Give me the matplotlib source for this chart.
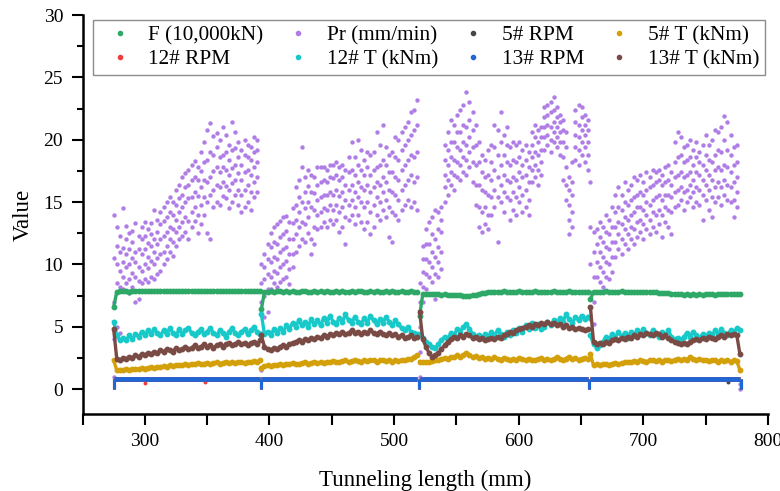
import numpy as np
import matplotlib
matplotlib.use("Agg")
import matplotlib.pyplot as plt
from matplotlib.lines import Line2D
from matplotlib.ticker import MultipleLocator

plt.rcParams['font.family'] = ['Liberation Serif', 'DejaVu Serif']

# sampling of the four excavation segments (mm)
STEP = 2.5
seg_start = [275.0, 393.5, 520.5, 657.5]
seg_end = [392.5, 518.5, 655.5, 777.5]
edge_x = [275.0, 393.0, 520.0, 656.5, 778.0]

# F (10,000kN)
f_seg = [
    [6.6, 7.8, 7.85, 7.9, 7.85, 7.82, 7.88, 7.85, 7.9, 7.86, 7.84, 7.88, 7.85, 7.83, 7.87, 7.9,
     7.86, 7.84, 7.88, 7.85, 7.86, 7.83, 7.87, 7.85, 7.89, 7.86, 7.84, 7.86, 7.88, 7.85, 7.83, 7.86,
     7.88, 7.85, 7.84, 7.87, 7.85, 7.86, 7.84, 7.88, 7.85, 7.83, 7.86, 7.85, 7.87, 7.84, 7.86, 7.85],
    [6.4, 7.8, 7.82, 7.84, 7.8, 7.83, 7.85, 7.81, 7.83, 7.8, 7.84, 7.82, 7.8, 7.83, 7.85, 7.82,
     7.8, 7.84, 7.81, 7.83, 7.82, 7.85, 7.8, 7.82, 7.84, 7.81, 7.83, 7.8, 7.82, 7.84, 7.81, 7.83,
     7.85, 7.82, 7.8, 7.83, 7.81, 7.84, 7.82, 7.8, 7.83, 7.81, 7.84, 7.82, 7.8, 7.83, 7.82, 7.81,
     7.84, 7.82, 7.8],
    [5.9, 7.62, 7.6, 7.62, 7.6, 7.61, 7.6, 7.58, 7.6, 7.57, 7.56, 7.55, 7.53, 7.52, 7.5, 7.48,
     7.5, 7.52, 7.56, 7.62, 7.68, 7.74, 7.78, 7.8, 7.82, 7.8, 7.81, 7.83, 7.8, 7.82, 7.8, 7.81,
     7.83, 7.8, 7.82, 7.81, 7.8, 7.83, 7.81, 7.8, 7.82, 7.8, 7.81, 7.83, 7.8, 7.82, 7.8, 7.81,
     7.83, 7.8, 7.82, 7.8, 7.81, 7.8, 7.82],
    [7.2, 7.8, 7.82, 7.8, 7.81, 7.83, 7.8, 7.82, 7.8, 7.81, 7.83, 7.8, 7.82, 7.8, 7.79, 7.81,
     7.8, 7.78, 7.8, 7.77, 7.76, 7.75, 7.74, 7.72, 7.7, 7.68, 7.66, 7.64, 7.62, 7.6, 7.58, 7.6,
     7.58, 7.6, 7.57, 7.6, 7.58, 7.6, 7.59, 7.6, 7.58, 7.6, 7.62, 7.6, 7.61, 7.63, 7.62, 7.64, 7.62],
]

# Pr (mm/min): readings per sampling position
pr_seg = [
    [[1.0, 4.0, 7.0, 10.5, 14.0], [5.0, 8.5, 10.0, 11.5, 13.0], [4.5, 8.2, 9.5, 11.0, 12.3],
     [8.0, 9.0, 10.2, 11.3, 14.5], [8.5, 9.8, 10.8, 12.0, 13.1], [7.7, 8.8, 10.0, 11.2, 12.5],
     [8.2, 9.3, 10.5, 11.8, 12.7], [7.0, 9.0, 10.2, 11.0, 13.3], [7.2, 8.7, 9.8, 11.2, 12.3],
     [8.5, 9.5, 10.8, 12.0, 13.0], [8.8, 10.0, 11.2, 12.3, 13.4], [8.6, 9.7, 10.6, 11.7, 12.8],
     [9.0, 10.3, 11.5, 12.4, 13.3], [8.8, 10.0, 11.0, 12.0, 14.4], [9.2, 10.5, 11.6, 12.6, 13.6],
     [9.5, 10.8, 12.0, 13.2, 14.2], [10.0, 11.0, 12.3, 13.5, 14.6], [10.4, 11.5, 12.6, 13.8, 15.0],
     [11.0, 12.0, 13.0, 14.2, 15.4], [10.7, 11.8, 12.8, 14.0, 15.0], [11.5, 12.6, 13.6, 14.8, 16.0],
     [12.0, 13.0, 14.2, 15.3, 16.4], [12.3, 13.4, 14.6, 15.6, 17.0], [12.6, 13.8, 15.0, 16.2, 17.3],
     [12.0, 13.5, 15.3, 16.4, 17.6], [13.0, 14.2, 15.4, 16.8, 18.0], [13.5, 14.6, 15.8, 17.0, 18.3],
     [12.5, 14.0, 15.5, 16.8, 17.8], [13.2, 14.8, 16.2, 17.5, 19.0], [14.0, 15.4, 16.8, 18.2, 19.8],
     [12.5, 15.0, 16.6, 18.4, 20.8], [12.0, 15.6, 17.0, 19.0, 21.3], [14.6, 16.0, 17.5, 18.8, 20.3],
     [15.0, 16.4, 17.8, 19.4, 20.5], [14.8, 16.2, 17.4, 18.6, 20.0], [15.5, 16.6, 17.8, 18.8, 21.0],
     [15.3, 16.3, 17.6, 19.0, 20.4], [14.5, 16.0, 17.2, 18.4, 19.6], [15.0, 16.5, 17.7, 19.2, 21.4],
     [15.6, 16.8, 18.0, 19.3, 20.6], [14.8, 16.0, 17.3, 18.6, 19.8], [14.2, 15.6, 16.8, 18.0, 19.2],
     [14.6, 16.0, 17.4, 18.8, 20.0], [15.0, 16.4, 17.6, 18.6, 19.6], [14.4, 15.8, 17.2, 18.4, 19.4],
     [15.4, 16.6, 17.8, 19.0, 20.2], [15.8, 17.0, 18.2, 19.2, 20.0]],
    [[1.5, 4.5, 7.0, 8.5, 10.0], [5.8, 7.5, 8.8, 9.8, 10.8], [6.2, 8.0, 9.2, 10.4, 11.6],
     [8.0, 9.0, 10.2, 11.4, 12.5], [8.5, 9.5, 10.6, 11.8, 13.0], [8.2, 9.3, 10.4, 11.6, 13.2],
     [8.6, 9.8, 11.0, 12.2, 13.5], [8.8, 10.0, 11.2, 12.4, 13.8], [9.0, 10.3, 11.4, 12.7, 13.9],
     [8.4, 9.6, 10.8, 12.0, 13.4], [9.8, 10.8, 12.0, 13.3, 14.5], [11.0, 12.4, 13.6, 14.8, 16.2],
     [11.5, 13.0, 14.2, 15.4, 16.8], [12.0, 13.4, 15.0, 17.8, 19.4], [11.8, 13.2, 14.5, 15.8, 17.0],
     [12.5, 13.8, 15.0, 16.3, 17.6], [10.8, 12.0, 14.6, 15.8, 17.2], [11.6, 13.0, 14.4, 15.7, 17.0],
     [12.8, 14.0, 15.2, 16.4, 17.8], [13.0, 14.2, 15.4, 16.6, 17.8], [13.4, 14.5, 15.6, 16.8, 17.8],
     [13.0, 14.4, 15.6, 16.6, 17.6], [13.6, 14.8, 15.8, 17.0, 18.0], [13.2, 14.4, 15.6, 16.9, 18.0],
     [13.6, 14.8, 16.0, 17.2, 18.2], [12.6, 14.2, 15.5, 16.8, 17.8], [13.0, 14.6, 15.8, 17.0, 18.0],
     [11.6, 13.8, 15.2, 16.4, 17.6], [13.6, 14.8, 16.0, 17.4, 18.6], [14.0, 15.2, 16.4, 17.6, 19.8],
     [13.2, 14.6, 15.8, 17.2, 18.6], [14.0, 15.4, 16.6, 18.0, 20.0], [13.4, 15.0, 16.2, 17.6, 19.2],
     [12.8, 14.6, 16.0, 17.2, 18.4], [13.4, 15.0, 16.4, 17.8, 19.0], [12.4, 14.2, 15.8, 17.2, 18.8],
     [13.0, 14.8, 16.2, 17.6, 19.0], [14.0, 15.4, 16.6, 17.8, 20.6], [13.6, 15.0, 16.4, 18.0, 19.6],
     [14.4, 15.8, 17.0, 18.4, 21.2], [13.8, 15.2, 16.6, 18.0, 19.4], [12.2, 14.6, 16.0, 17.4, 18.8],
     [11.8, 14.2, 15.8, 17.4, 19.0], [14.0, 15.6, 17.0, 18.6, 20.2], [13.6, 15.2, 16.8, 18.4, 20.0],
     [14.4, 16.0, 17.6, 19.2, 20.6], [14.8, 16.4, 18.0, 19.6, 21.0], [15.2, 16.8, 18.4, 20.0, 21.4],
     [14.6, 17.2, 18.8, 20.4, 22.2], [15.0, 16.6, 18.6, 20.8, 22.4], [14.4, 17.0, 19.0, 21.2, 23.2]],
    [[1.0, 3.0, 5.0, 7.0, 8.5], [7.0, 8.2, 9.4, 10.4, 11.5], [8.0, 9.2, 10.4, 11.6, 12.8],
     [7.6, 9.0, 10.2, 11.6, 13.4], [8.6, 9.8, 11.0, 12.4, 13.8], [7.2, 9.2, 10.6, 12.0, 14.4],
     [9.0, 10.2, 11.4, 12.8, 14.2], [9.6, 11.0, 12.6, 13.6, 14.6], [15.0, 16.2, 17.2, 18.4, 19.6],
     [15.6, 16.8, 18.0, 19.2, 20.6], [16.4, 17.4, 18.6, 19.8, 21.6], [16.0, 17.2, 18.4, 19.8, 21.2],
     [17.0, 18.2, 19.4, 20.6, 22.0], [16.8, 18.0, 19.2, 20.6, 22.4], [17.4, 18.6, 19.8, 21.2, 22.8],
     [17.2, 18.4, 19.6, 21.0, 23.8], [17.8, 19.0, 20.2, 21.6, 23.0], [16.6, 18.2, 19.4, 20.8, 22.2],
     [14.8, 16.4, 18.0, 19.6, 21.2], [13.0, 14.6, 16.4, 18.2, 19.8], [12.6, 14.2, 16.0, 17.4, 18.8],
     [13.2, 14.6, 15.8, 17.0, 18.4], [12.8, 14.0, 15.6, 17.2, 19.2], [14.0, 15.4, 16.8, 18.2, 19.6],
     [14.6, 16.0, 17.6, 19.4, 21.2], [11.8, 15.4, 17.0, 18.8, 20.8], [15.0, 16.4, 18.0, 19.8, 22.2],
     [14.2, 15.8, 17.2, 18.8, 20.4], [15.4, 16.8, 18.2, 19.6, 21.0], [13.6, 15.2, 16.6, 18.0, 19.4],
     [14.4, 15.8, 17.0, 18.4, 19.8], [14.0, 15.4, 16.8, 18.2, 19.6], [15.0, 16.2, 17.4, 18.6, 19.8],
     [14.2, 15.6, 17.0, 18.0, 19.2], [14.6, 16.0, 17.2, 18.4, 19.6], [14.0, 15.2, 16.6, 17.8, 19.0],
     [16.6, 17.6, 18.6, 19.6, 20.6], [17.0, 18.0, 19.0, 20.2, 21.2], [16.4, 17.6, 18.8, 19.8, 20.8],
     [17.2, 18.2, 19.2, 20.2, 21.0], [19.2, 20.2, 21.0, 21.8, 22.6], [19.6, 20.4, 21.2, 22.0, 22.8],
     [19.0, 20.0, 21.0, 22.2, 23.0], [19.8, 20.6, 21.4, 22.4, 23.4], [19.4, 20.2, 21.0, 21.8, 22.6],
     [18.8, 19.8, 20.6, 21.4, 22.0], [16.8, 18.6, 19.8, 20.8, 21.6], [15.2, 16.4, 17.8, 19.4, 20.6],
     [12.4, 13.6, 14.8, 16.0, 17.0], [13.0, 14.2, 15.6, 16.6, 18.2], [18.4, 19.4, 20.4, 21.4, 22.4],
     [18.0, 19.2, 20.2, 21.2, 22.8], [18.8, 19.8, 20.8, 21.8, 22.6], [18.2, 19.4, 20.4, 21.2, 22.0],
     [17.6, 18.8, 19.8, 20.8, 21.6]],
    [[5.6, 7.8, 10.0, 13.0, 16.6], [5.2, 7.0, 9.0, 11.0, 12.6], [7.8, 9.0, 10.2, 11.6, 12.8],
     [8.6, 9.8, 11.0, 12.2, 13.4], [8.2, 9.4, 10.6, 11.8, 13.0], [9.0, 10.2, 11.4, 12.6, 14.0],
     [8.8, 10.0, 11.2, 12.4, 13.6], [9.4, 10.6, 11.8, 13.0, 14.6], [10.6, 11.8, 13.0, 14.2, 15.6],
     [11.2, 12.4, 13.4, 14.6, 16.2], [10.8, 12.0, 13.2, 14.4, 15.6], [11.6, 12.8, 13.8, 15.0, 16.6],
     [11.2, 12.4, 13.6, 14.8, 16.0], [12.0, 13.0, 14.0, 15.2, 16.4], [11.6, 12.8, 14.2, 15.4, 17.0],
     [12.2, 13.4, 14.6, 15.6, 16.8], [12.6, 13.6, 14.6, 15.8, 17.2], [12.0, 13.2, 14.4, 15.6, 16.6],
     [12.8, 14.0, 15.0, 16.0, 17.4], [12.4, 13.6, 14.8, 16.2, 17.0], [13.0, 14.2, 15.2, 16.4, 17.6],
     [12.6, 14.0, 15.4, 16.6, 17.4], [13.2, 14.4, 15.6, 16.8, 17.6], [12.2, 14.0, 15.2, 16.4, 17.2],
     [13.4, 14.6, 15.6, 16.6, 17.8], [13.0, 14.4, 15.6, 16.8, 18.0], [12.4, 14.2, 15.4, 16.4, 17.4],
     [14.6, 15.8, 17.0, 18.2, 19.8], [14.8, 16.0, 17.2, 18.6, 20.6], [15.2, 16.2, 17.4, 18.8, 20.2],
     [14.4, 15.8, 17.0, 18.2, 19.4], [15.0, 16.0, 17.2, 18.4, 19.6], [15.4, 16.4, 17.4, 18.6, 20.0],
     [14.6, 15.8, 16.8, 18.0, 19.2], [15.0, 16.2, 17.4, 18.6, 19.8], [14.8, 16.0, 17.2, 18.2, 19.0],
     [13.6, 15.6, 16.8, 18.0, 19.6], [15.2, 16.4, 17.6, 18.8, 20.4], [14.4, 16.0, 17.2, 18.4, 19.6],
     [13.8, 15.4, 16.8, 18.2, 20.0], [15.0, 16.2, 17.6, 18.8, 20.8], [15.4, 16.6, 17.8, 19.2, 20.6],
     [14.8, 16.2, 17.6, 19.0, 21.0], [15.6, 16.8, 18.0, 20.0, 21.9], [15.2, 16.4, 17.8, 19.2, 21.4],
     [15.0, 16.2, 17.4, 18.8, 20.4], [13.8, 15.2, 16.6, 18.0, 19.4], [14.6, 15.8, 17.0, 18.2, 19.6],
     [0.0, 0.4]],
]

# 5# T (kNm)
t5_seg = [
    [2.3, 1.5, 1.55, 1.5, 1.6, 1.55, 1.6, 1.65, 1.6, 1.7, 1.65, 1.7, 1.75, 1.7, 1.8, 1.75,
     1.85, 1.8, 1.9, 1.85, 1.9, 1.95, 1.9, 2.0, 1.95, 2.05, 2.0, 2.1, 2.0, 2.05, 2.1, 2.0,
     2.1, 2.15, 2.05, 2.1, 2.2, 2.1, 2.15, 2.1, 2.2, 2.15, 2.1, 2.2, 2.15, 2.25, 2.2, 2.3],
    [1.7, 1.85, 1.9, 1.85, 1.95, 1.9, 2.0, 1.95, 2.05, 2.0, 2.1, 2.05, 2.0, 2.1, 2.15, 2.05,
     2.1, 2.2, 2.1, 2.15, 2.1, 2.2, 2.15, 2.25, 2.2, 2.15, 2.25, 2.3, 2.2, 2.25, 2.35, 2.25,
     2.2, 2.3, 2.25, 2.35, 2.3, 2.2, 2.3, 2.35, 2.25, 2.3, 2.2, 2.3, 2.25, 2.35, 2.3, 2.4,
     2.45, 2.55, 2.7],
    [2.2, 2.2, 2.15, 2.2, 2.25, 2.3, 2.35, 2.4, 2.5, 2.45, 2.6, 2.55, 2.7, 2.6, 2.75, 2.9,
     2.7, 2.6, 2.65, 2.5, 2.55, 2.45, 2.5, 2.4, 2.55, 2.45, 2.35, 2.5, 2.4, 2.3, 2.45, 2.35,
     2.5, 2.4, 2.3, 2.45, 2.35, 2.3, 2.4, 2.5, 2.35, 2.45, 2.3, 2.4, 2.55, 2.4, 2.3, 2.45,
     2.6, 2.4, 2.5, 2.35, 2.45, 2.5, 2.4],
    [2.8, 1.9, 2.0, 1.95, 2.0, 2.05, 1.95, 2.05, 2.1, 2.0, 2.1, 2.15, 2.2, 2.15, 2.25, 2.2,
     2.3, 2.25, 2.2, 2.3, 2.35, 2.25, 2.3, 2.2, 2.35, 2.3, 2.25, 2.35, 2.45, 2.3, 2.4, 2.35,
     2.6, 2.45, 2.35, 2.4, 2.3, 2.35, 2.25, 2.35, 2.3, 2.2, 2.3, 2.25, 2.35, 2.2, 2.3, 2.25, 1.5],
]

# 12# T (kNm)
t12_seg = [
    [5.4, 4.3, 3.9, 4.1, 3.9, 4.3, 4.0, 4.4, 4.2, 4.6, 4.3, 4.7, 4.4, 4.8, 4.5, 4.3,
     4.7, 4.4, 4.9, 4.5, 4.3, 4.8, 4.4, 4.7, 4.9, 4.5, 4.3, 4.6, 4.8, 4.4, 4.6, 4.9,
     4.5, 4.3, 4.7, 4.5, 4.2, 4.6, 4.9, 4.5, 4.3, 4.6, 4.8, 4.4, 4.7, 5.0, 4.6, 4.4],
    [6.0, 4.4, 4.6, 4.3, 4.8, 4.5, 4.9, 4.6, 5.1, 4.8, 5.3, 5.0, 5.5, 5.1, 5.4, 5.0,
     5.6, 5.2, 5.5, 5.1, 5.7, 5.3, 5.9, 5.4, 5.2, 5.7, 5.4, 6.0, 5.5, 5.3, 5.8, 5.4,
     5.2, 5.7, 5.3, 5.9, 5.5, 5.2, 5.6, 5.3, 5.8, 5.4, 5.1, 5.5, 5.2, 4.9, 4.7, 5.0,
     4.6, 4.5, 4.4],
    [4.4, 4.1, 3.8, 3.6, 3.4, 3.3, 3.6, 3.9, 4.2, 4.0, 4.5, 4.3, 4.8, 4.6, 5.0, 5.2,
     4.8, 4.4, 4.2, 4.3, 4.1, 4.4, 4.2, 4.6, 4.3, 4.7, 4.4, 4.2, 4.6, 4.3, 4.7, 4.5,
     4.9, 4.6, 5.1, 4.8, 5.3, 4.9, 5.2, 4.8, 5.0, 5.4, 5.1, 5.5, 5.2, 5.7, 5.4, 6.0,
     5.6, 5.3, 5.8, 5.5, 5.9, 5.6, 5.8],
    [4.3, 3.6, 3.3, 3.5, 3.8, 4.2, 4.0, 4.4, 4.1, 4.6, 4.2, 4.5, 4.1, 4.6, 4.3, 4.7,
     4.4, 4.8, 4.5, 4.3, 4.7, 4.4, 4.2, 4.6, 4.3, 4.7, 4.2, 4.0, 4.1, 3.9, 4.2, 4.5,
     4.2, 4.6, 4.3, 4.1, 4.4, 4.2, 4.5, 4.3, 4.7, 4.4, 4.8, 4.5, 4.3, 4.7, 4.5, 4.9, 4.7],
]

# 13# T (kNm)
t13_seg = [
    [4.8, 2.4, 2.3, 2.5, 2.4, 2.6, 2.5, 2.7, 2.6, 2.8, 2.7, 2.9, 2.8, 3.0, 2.9, 3.1,
     3.0, 3.2, 3.1, 3.0, 3.3, 3.1, 3.2, 3.4, 3.2, 3.3, 3.5, 3.3, 3.4, 3.6, 3.4, 3.5,
     3.3, 3.5, 3.6, 3.4, 3.6, 3.7, 3.5, 3.6, 3.8, 3.6, 3.7, 3.5, 3.7, 3.8, 3.6, 3.9],
    [4.3, 3.4, 3.2, 3.1, 3.3, 3.2, 3.4, 3.5, 3.4, 3.6, 3.7, 3.8, 3.9, 3.8, 4.0, 3.9,
     4.1, 4.0, 4.2, 4.1, 4.3, 4.2, 4.4, 4.3, 4.5, 4.4, 4.6, 4.4, 4.5, 4.7, 4.5, 4.6,
     4.4, 4.6, 4.5, 4.7, 4.5, 4.4, 4.6, 4.4, 4.3, 4.5, 4.3, 4.4, 4.2, 4.3, 4.1, 4.2,
     4.3, 4.1, 4.2],
    [6.2, 4.0, 3.4, 2.9, 2.6, 2.7, 2.9, 3.2, 3.5, 3.8, 4.0, 4.2, 4.1, 4.3, 4.2, 4.4,
     4.3, 4.1, 4.2, 4.0, 4.1, 3.9, 4.0, 4.1, 4.0, 4.2, 4.1, 4.3, 4.4, 4.6, 4.5, 4.7,
     4.8, 4.9, 5.0, 5.1, 5.0, 5.2, 5.1, 5.3, 5.2, 5.4, 5.2, 5.3, 5.1, 5.2, 5.0, 5.1,
     4.9, 5.0, 4.8, 4.9, 4.8, 4.7, 4.8],
    [6.6, 3.8, 3.6, 3.7, 3.6, 3.8, 3.7, 3.9, 4.0, 3.9, 4.1, 4.0, 4.2, 4.1, 4.3, 4.2,
     4.4, 4.3, 4.5, 4.4, 4.3, 4.5, 4.4, 4.2, 4.3, 4.1, 3.9, 3.8, 3.7, 3.6, 3.7, 3.6,
     3.8, 3.9, 4.0, 3.9, 4.1, 4.0, 4.2, 4.1, 4.0, 4.2, 4.3, 4.2, 4.4, 4.3, 4.4, 4.3, 2.8],
]

# cutterhead speeds, one level per segment
rpm5 = [0.80, 0.80, 0.80, 0.80]
rpm12 = [0.78, 0.78, 0.78, 0.78]
rpm13 = [0.84, 0.84, 0.84, 0.84]
rpm12_low_x = [300.0, 348.0]
rpm12_low = [0.5, 0.55]
rpm5_low_x = [768.0]
rpm5_low = [0.6]

colors = {
    'F (10,000kN)': '#2ea866',
    'Pr (mm/min)': '#b07de6',
    '5# RPM': '#474747',
    '5# T (kNm)': '#d4a00a',
    '12# RPM': '#f03c3c',
    '12# T (kNm)': '#17c9c9',
    '13# RPM': '#1f66d6',
    '13# T (kNm)': '#7a4a45',
}


def seg_x(start, n):
    return start + STEP * np.arange(n)


def plot_band(ax, segs, color):
    for start, vals in zip(seg_start, segs):
        ax.plot(seg_x(start, len(vals)), vals, '-', marker='o', ms=3.2, lw=2.4,
                color=color, solid_joinstyle='round')


def plot_rpm(ax, levels, color):
    ax.hlines(levels, seg_start, seg_end, colors=color, lw=3.4)
    ax.vlines(edge_x, 0, levels + levels[-1:], colors=color, lw=2.2)


fig = plt.figure(figsize=(7.8, 4.91), dpi=100)
ax = fig.add_axes([0.1058, 0.1568, 0.8788, 0.8126])

plot_band(ax, f_seg, colors['F (10,000kN)'])

pr_x, pr_y = [], []
for start, cols in zip(seg_start, pr_seg):
    for xi, col in zip(seg_x(start, len(cols)), cols):
        pr_x += [xi] * len(col)
        pr_y += col
ax.scatter(pr_x, pr_y, s=10, color=colors['Pr (mm/min)'], linewidths=0)

plot_rpm(ax, rpm5, colors['5# RPM'])
ax.scatter(rpm5_low_x, rpm5_low, s=8, color=colors['5# RPM'], linewidths=0)
plot_band(ax, t5_seg, colors['5# T (kNm)'])
plot_rpm(ax, rpm12, colors['12# RPM'])
ax.scatter(rpm12_low_x, rpm12_low, s=8, color=colors['12# RPM'], linewidths=0)
plot_band(ax, t12_seg, colors['12# T (kNm)'])
plot_rpm(ax, rpm13, colors['13# RPM'])
plot_band(ax, t13_seg, colors['13# T (kNm)'])

ax.set_xlim(250, 800)
ax.set_ylim(-2, 30)
ax.xaxis.set_major_locator(MultipleLocator(100))
ax.xaxis.set_minor_locator(MultipleLocator(50))
ax.yaxis.set_major_locator(MultipleLocator(5))
ax.yaxis.set_minor_locator(MultipleLocator(2.5))
ax.tick_params(which='major', direction='out', length=8, width=1.5, labelsize=14, pad=6)
ax.tick_params(axis='y', which='minor', direction='out', length=4, width=1.5)
ax.tick_params(axis='x', which='minor', direction='out', length=8, width=1.5)
for side in ['top', 'right']:
    ax.spines[side].set_visible(False)
for side in ['left', 'bottom']:
    ax.spines[side].set_linewidth(1.8)

ax.set_xlabel('Tunneling length (mm)', fontsize=16.5, labelpad=14)
ax.set_ylabel('Value', fontsize=16.5, labelpad=7)

# legend reads row by row, matplotlib fills columns first
order = ['F (10,000kN)', '12# RPM', 'Pr (mm/min)', '12# T (kNm)',
         '5# RPM', '13# RPM', '5# T (kNm)', '13# T (kNm)']
handles = [Line2D([], [], ls='none', marker='o', ms=3, color=colors[k]) for k in order]
leg = ax.legend(handles, order, ncol=4, loc='upper left', bbox_to_anchor=(0.0153, 0.9875),
                borderaxespad=0, fontsize=15.3, handlelength=2.0, handletextpad=0.35,
                columnspacing=0.65, borderpad=0.25, labelspacing=0.2, fancybox=False,
                framealpha=1, edgecolor='#8c8c8c')
leg.get_frame().set_linewidth(1.0)

fig.savefig('out.png', dpi=100)
